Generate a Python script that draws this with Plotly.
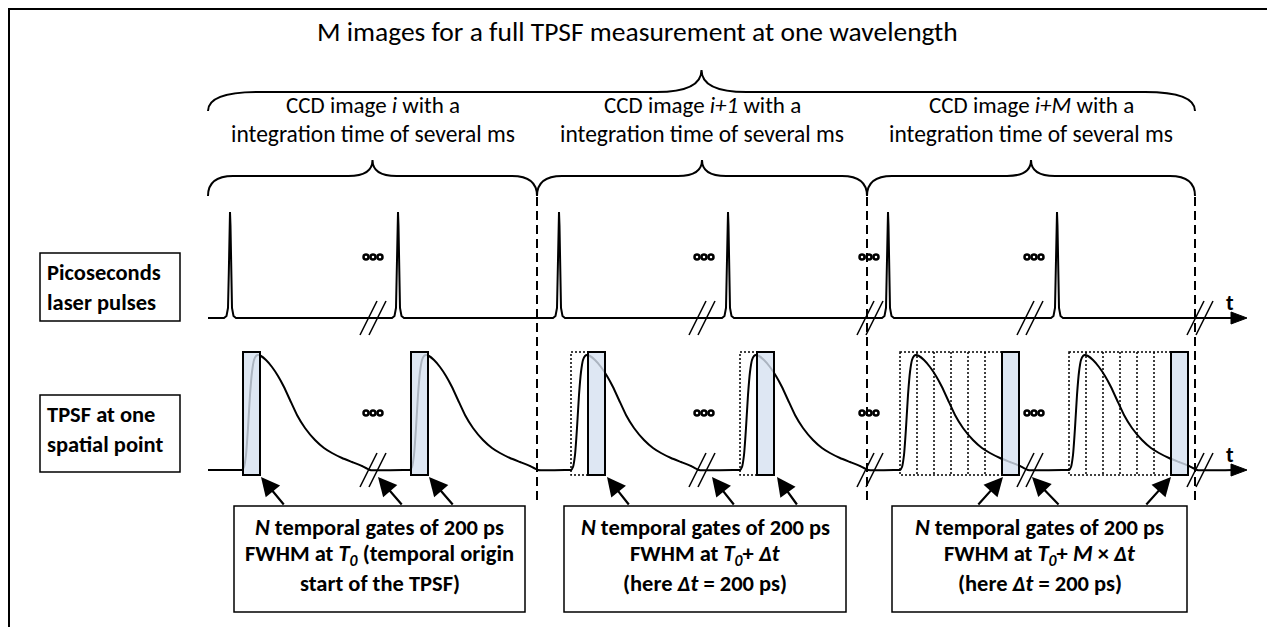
import plotly.graph_objects as go

W, H = 1275, 627
OFF = 8  # page body margin compensation

# ---------------- data (diagram time axis) ----------------
image_edges = [208, 537, 867, 1195]                 # boundaries of the CCD images
image_names = ["<i>i</i>", "<i>i+1</i>", "<i>i+M</i>"]
pulse_t = [230, 398, 559, 728, 888, 1057]           # laser pulse instants
tpsf_delay = 12                                     # TPSF rise after each pulse
gate_shift = [0, 0, 1, 1, 6, 6]                     # gate index (multiples of Δt)
gate_width = 17                                     # 200 ps gate
break_t = [373, 702, 870, 1030, 1200]               # axis breaks
ellipsis_t = [373, 704, 869, 1034]
pulse_dx = [-6, -3.5, -2, -1.2, -0.5, 0, 0.5, 1.2, 2, 3.5, 6]
pulse_h = [0, 2, 10, 45, 92, 106, 92, 45, 10, 2, 0]
tpsf_dx = [-3, 0, 2, 4, 6, 8, 10, 12, 14, 16, 19, 24, 30, 36, 42, 48, 55, 63, 73, 82, 90, 100, 110, 120, 128]
tpsf_h = [0, 0, 3, 15, 42, 75, 98, 110, 114, 115, 114, 110, 103, 94, 83, 70, 55, 42, 30, 22, 17, 12, 8, 4, 0]
gate_arrows = [(285, 261), (403, 378), (454, 429),
               (630, 607), (735, 712), (798, 777),
               (977, 1003), (1060, 1032), (1145, 1171)]
box_spans = [(234, 525), (564, 846), (892, 1187)]
box_lines = [
    ["<i>N</i> temporal gates of 200 ps",
     "FWHM at <i>T</i><sub><i>0</i></sub> (temporal origin",
     "start of the TPSF)"],
    ["<i>N</i> temporal gates of 200 ps",
     "FWHM at <i>T</i><sub><i>0</i></sub>+ <i>Δt</i>",
     "(here <i>Δt</i> = 200 ps)"],
    ["<i>N</i> temporal gates of 200 ps",
     "FWHM at <i>T</i><sub><i>0</i></sub>+ <i>M</i> × <i>Δt</i>",
     "(here <i>Δt</i> = 200 ps)"],
]
title_text = "M images for a full TPSF measurement at one wavelength"

# ---------------- geometry / style ----------------
Y1, Y2 = 318, 470           # baselines of the two rows
AX_END = 1247
GATE_TOP, GATE_BOT = 352, 475
FONT = "Calibri, Carlito, Lato, sans-serif"
BLACK = "#000000"

fig = go.Figure()
shapes = []
ann = []

# Row 1: laser pulses
xs, ys = [image_edges[0]], [Y1]
for p in pulse_t:
    for dx, h in zip(pulse_dx, pulse_h):
        xs.append(p + dx)
        ys.append(Y1 - h)
xs.append(AX_END - 14)
ys.append(Y1)
fig.add_trace(go.Scatter(x=xs, y=ys, mode="lines", line=dict(color=BLACK, width=2),
                         hoverinfo="skip", showlegend=False))

# Row 2: TPSF curves
xs, ys = [image_edges[0]], [Y2]
for p in pulse_t:
    s = p + tpsf_delay
    for dx, h in zip(tpsf_dx, tpsf_h):
        xs.append(s + dx)
        ys.append(Y2 - h)
xs.append(AX_END - 14)
ys.append(Y2)
fig.add_trace(go.Scatter(x=xs, y=ys, mode="lines",
                         line=dict(color=BLACK, width=2, shape="spline", smoothing=0.4),
                         hoverinfo="skip", showlegend=False))

# Gates and dotted previous gates
for p, k in zip(pulse_t, gate_shift):
    s = p + tpsf_delay
    g0 = s + k * gate_width + (1 if k == 0 else 0)
    if k > 0:
        shapes.append(dict(type="rect", x0=s, x1=g0, y0=GATE_TOP, y1=GATE_BOT,
                           line=dict(color=BLACK, width=1.5, dash="2px,2px"),
                           fillcolor="rgba(0,0,0,0)", layer="above"))
        for j in range(1, k):
            xv = s + j * gate_width
            shapes.append(dict(type="line", x0=xv, x1=xv, y0=GATE_TOP, y1=GATE_BOT,
                               line=dict(color=BLACK, width=1.5, dash="2px,2px"), layer="above"))
    shapes.append(dict(type="rect", x0=g0, x1=g0 + gate_width, y0=GATE_TOP, y1=GATE_BOT,
                       line=dict(color=BLACK, width=2),
                       fillcolor="rgba(214,225,240,0.8)", layer="above"))

# Axis arrows and "t"
for yb in (Y1, Y2):
    shapes.append(dict(type="path",
                       path=f"M {AX_END-16},{yb-6} L {AX_END},{yb} L {AX_END-16},{yb+6} Z",
                       fillcolor=BLACK, line=dict(color=BLACK, width=1), layer="above"))
    ann.append(dict(x=AX_END - 17, y=yb - 16, text="<b>t</b>", showarrow=False,
                    font=dict(family=FONT, size=22, color=BLACK)))

# Axis breaks
for b in break_t:
    for yb in (Y1, Y2):
        for off in (-4.5, 4.5):
            shapes.append(dict(type="line", x0=b + off - 8.5, y0=yb + 17,
                               x1=b + off + 8.5, y1=yb - 17,
                               line=dict(color=BLACK, width=1.5), layer="above"))

# Ellipsis dots
ex, ey = [], []
for e in ellipsis_t:
    for yb in (257, 413):
        for d in (-7, 0, 7):
            ex.append(e + d)
            ey.append(yb)
fig.add_trace(go.Scatter(x=ex, y=ey, mode="markers",
                         marker=dict(symbol="circle-open", size=5, color=BLACK, line=dict(width=2.5)),
                         hoverinfo="skip", showlegend=False))

# Dashed separators between CCD images
for xe in image_edges[1:]:
    shapes.append(dict(type="line", x0=xe, x1=xe, y0=197, y1=505,
                       line=dict(color=BLACK, width=2, dash="9px,5px"), layer="above"))


def brace(x0, x1, y_end, y_line, y_tip, r, rc):
    xm = (x0 + x1) / 2
    return (f"M {x0},{y_end} Q {x0},{y_line} {x0 + r},{y_line} "
            f"L {xm - rc},{y_line} Q {xm},{y_line} {xm},{y_tip} "
            f"Q {xm},{y_line} {xm + rc},{y_line} "
            f"L {x1 - r},{y_line} Q {x1},{y_line} {x1},{y_end}")


# Small braces
for a, b in zip(image_edges[:-1], image_edges[1:]):
    shapes.append(dict(type="path", path=brace(a, b, 196, 176, 160, 25, 24),
                       line=dict(color=BLACK, width=2)))
# Big brace
shapes.append(dict(type="path", path=brace(image_edges[0], image_edges[-1], 111, 92, 70, 50, 45),
                   line=dict(color=BLACK, width=2)))

# Title and image subtitles
ann.append(dict(x=637, y=31, text=title_text, showarrow=False,
                font=dict(family=FONT, size=27.5, color=BLACK)))
for a, b, nm in zip(image_edges[:-1], image_edges[1:], image_names):
    xm = (a + b) / 2
    ann.append(dict(x=xm, y=105, text=f"CCD image {nm} with a", showarrow=False,
                    font=dict(family=FONT, size=23, color=BLACK)))
    ann.append(dict(x=xm, y=134, text="integration time of several ms", showarrow=False,
                    font=dict(family=FONT, size=23.5, color=BLACK)))

# Left row labels
for (y0, y1), lines in zip([(253, 321), (395, 472)],
                           [["Picoseconds", "laser pulses"], ["TPSF at one", "spatial point"]]):
    shapes.append(dict(type="rect", x0=40, x1=180, y0=y0, y1=y1,
                       line=dict(color=BLACK, width=1.5), fillcolor="white"))
    for j, t in enumerate(lines):
        ann.append(dict(x=45, y=y0 + 19 + j * 30, text=f"<b>{t}</b>", showarrow=False,
                        xanchor="left", font=dict(family=FONT, size=22.5, color=BLACK)))

# Bottom explanation boxes
for (bx0, bx1), lines in zip(box_spans, box_lines):
    shapes.append(dict(type="rect", x0=bx0, x1=bx1, y0=506, y1=612,
                       line=dict(color=BLACK, width=1.5), fillcolor="white"))
    for j, t in enumerate(lines):
        ann.append(dict(x=(bx0 + bx1) / 2, y=527 + j * 28, text=f"<b>{t}</b>", showarrow=False,
                        font=dict(family=FONT, size=22.5, color=BLACK)))

# Arrows from boxes to gates
for tail, tip in gate_arrows:
    ann.append(dict(x=tip, y=477, ax=tail, ay=506, xref="x", yref="y", axref="x", ayref="y",
                    text="", showarrow=True, arrowhead=2, arrowsize=1.7, arrowwidth=2.2,
                    arrowcolor=BLACK, standoff=0))

# Outer frame (paper coordinates so it is never clipped)
frame_px = (1, 1, 1260, 700)   # left, top, right, bottom in figure pixels
shapes.append(dict(type="rect", xref="paper", yref="paper",
                   x0=frame_px[0] / W, x1=frame_px[2] / W,
                   y0=1 - frame_px[1] / H, y1=1 - frame_px[3] / H,
                   line=dict(color=BLACK, width=2), fillcolor="rgba(0,0,0,0)", layer="above"))

fig.update_layout(
    width=W, height=H, margin=dict(l=0, r=0, t=0, b=0),
    paper_bgcolor="white", plot_bgcolor="white",
    xaxis=dict(range=[OFF, W + OFF], visible=False, fixedrange=True),
    yaxis=dict(range=[H + OFF, OFF], visible=False, fixedrange=True),
    shapes=shapes, annotations=ann, showlegend=False,
)
fig.write_html("out.html")
